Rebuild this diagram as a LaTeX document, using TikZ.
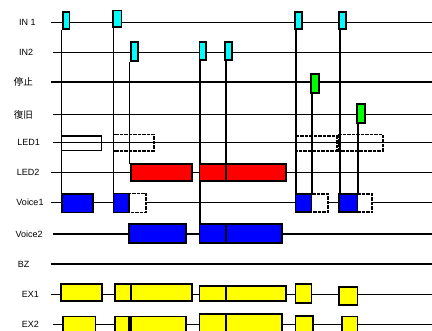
\documentclass[tikz,border=0pt]{standalone}
\usepackage{fontspec}
\setmainfont{Liberation Sans}
\newfontfamily\cjk{Noto Sans CJK JP}
\definecolor{sigCyan}{HTML}{00FFFF}
\definecolor{sigGreen}{HTML}{00FF00}
\definecolor{sigRed}{HTML}{FF0000}
\definecolor{sigBlue}{HTML}{0000FF}
\definecolor{sigYellow}{HTML}{FFFF00}
\usepackage{tikz}

\tikzset{
  sigline/.style={line width=1.6pt},
  pulse/.style={draw, line width=1.7pt},
  dashbox/.style={draw, line width=1.9pt, dash pattern=on 3.5pt off 1pt},
  lbl/.style={font=\fontsize{9}{10}\selectfont, inner sep=0pt},
}

\begin{document}
\begin{tikzpicture}[x=1pt, y=-1pt]
    \useasboundingbox (0,0) rectangle (432,331);
    \clip (0,0) rectangle (432,331);
    % Labels
    \node[lbl] (lIN1) at (27.5,22.7) {IN 1};
    \node[lbl] (lIN2) at (26.2,52.7) {IN2};
    \node[lbl, font=\cjk\fontsize{9.5}{10}\selectfont] (lStop) at (23.3,82.3) {停止};
    \node[lbl, font=\cjk\fontsize{9.5}{10}\selectfont] (lReset) at (23.3,114.7) {復旧};
    \node[lbl] (lLED1) at (28.7,142.7) {LED1};
    \node[lbl] (lLED2) at (28.2,172.7) {LED2};
    \node[lbl] (lVoice1) at (30,202.7) {Voice1};
    \node[lbl] (lVoice2) at (29.2,234.3) {Voice2};
    \node[lbl] (lBZ) at (23.7,264.3) {BZ};
    \node[lbl] (lEX1) at (30.5,294.7) {EX1};
    \node[lbl] (lEX2) at (30.5,324.7) {EX2};
    % Signal lines
    \draw[sigline] (50.7,22.7) -- (432,22.7);
    \draw[sigline] (52.7,52.7) -- (432,52.7);
    \draw[sigline] (50.7,82.3) -- (432,82.3);
    \draw[sigline] (52.7,114.7) -- (432,114.7);
    \draw[sigline] (52.7,142.7) -- (432,142.7);
    \draw[sigline] (50.7,172.7) -- (432,172.7);
    \draw[sigline] (50.7,202.7) -- (432,202.7);
    \draw[sigline] (52.7,234.3) -- (432,234.3);
    \draw[sigline] (50.7,264.3) -- (432,264.3);
    \draw[sigline] (50.7,294.7) -- (432,294.7);
    \draw[sigline] (52.7,324.7) -- (432,324.7);
    % Timing marks
    \draw[sigline] (61.3,30) -- (61.3,194);
    \draw[sigline] (113.5,28) -- (113.5,194);
    \draw[sigline] (129.3,62) -- (129.3,164);
    \draw[sigline] (199.7,61) -- (199.7,224);
    \draw[sigline] (225.7,61) -- (225.7,181);
    \draw[sigline] (295.7,30) -- (295.7,194);
    \draw[sigline] (311.7,92) -- (311.7,194);
    \draw[sigline] (340,29) -- (340,194);
    \draw[sigline] (357.7,122) -- (357.7,194);
    % IN1 / IN2 pulses
    \filldraw[pulse, fill=sigCyan] (63,12) rectangle (69.5,29);
    \filldraw[pulse, fill=sigCyan] (113.3,10.5) rectangle (121.5,27);
    \filldraw[pulse, fill=sigCyan] (295.3,12) rectangle (301.7,29);
    \filldraw[pulse, fill=sigCyan] (339.3,12) rectangle (345.7,29);
    \filldraw[pulse, fill=sigCyan] (131,42.3) rectangle (137.7,61);
    \filldraw[pulse, fill=sigCyan] (199.5,42.3) rectangle (205.7,60.3);
    \filldraw[pulse, fill=sigCyan] (225.3,42.3) rectangle (231.7,60.3);
    % Stop / reset pulses
    \filldraw[pulse, fill=sigGreen] (311.3,74) rectangle (319.3,92.7);
    \filldraw[pulse, fill=sigGreen] (357.3,104.3) rectangle (365,122.7);
    % LED1
    \draw[line width=1.3pt] (61.7,136) rectangle (101.7,150.7);
    \draw[dashbox] (113.5,134.5) rectangle (154,150.7);
    \draw[dashbox] (295.5,136) rectangle (336.7,150.7);
    \draw[dashbox] (339.3,134.5) rectangle (382.7,150.7);
    % LED2
    \filldraw[pulse, fill=sigRed] (131,164) rectangle (191.7,181.3);
    \filldraw[pulse, fill=sigRed] (199.5,164) rectangle (286,181.3);
    \draw[sigline] (225.7,164) -- (225.7,181.3);
    % Voice1
    \filldraw[pulse, fill=sigBlue] (61.7,194) rectangle (93.3,212.5);
    \filldraw[dashbox, fill=white] (113.5,193.5) rectangle (146,212.5);
    \filldraw[pulse, fill=sigBlue] (113.5,193.5) rectangle (129.3,212.5);
    \filldraw[dashbox, fill=white] (295.5,194) rectangle (327.7,212.3);
    \filldraw[pulse, fill=sigBlue] (295.5,194) rectangle (311.5,212.3);
    \filldraw[dashbox, fill=white] (339.3,194) rectangle (372.3,212.3);
    \filldraw[pulse, fill=sigBlue] (339.3,194) rectangle (357.5,212.3);
    % Voice2
    \filldraw[pulse, fill=sigBlue] (129,224) rectangle (185.7,243);
    \filldraw[pulse, fill=sigBlue] (199.5,224) rectangle (281.7,243);
    \draw[sigline] (225.7,224) -- (225.7,243);
    % EX1
    \filldraw[pulse, fill=sigYellow] (61.3,284.3) rectangle (101.7,300.7);
    \filldraw[pulse, fill=sigYellow] (115,284.3) rectangle (191.7,300.7);
    \draw[sigline] (131,284.3) -- (131,300.7);
    \filldraw[pulse, fill=sigYellow] (199.5,286) rectangle (286,301);
    \draw[sigline] (225.7,286) -- (225.7,301);
    \filldraw[pulse, fill=sigYellow] (295.5,284.3) rectangle (311.5,302.7);
    \filldraw[pulse, fill=sigYellow] (339.3,286.7) rectangle (357.5,304.7);
    % EX2
    \filldraw[pulse, fill=sigYellow] (63.3,316.5) rectangle (95.5,336);
    \filldraw[pulse, fill=sigYellow] (115,316.5) rectangle (129.3,336);
    \filldraw[pulse, fill=sigYellow] (131,316.5) rectangle (185.7,336);
    \filldraw[pulse, fill=sigYellow] (199.5,314) rectangle (281.7,336);
    \draw[sigline] (225.7,314) -- (225.7,336);
    \filldraw[pulse, fill=sigYellow] (295.5,316) rectangle (313.3,336);
    \filldraw[pulse, fill=sigYellow] (341.7,316.5) rectangle (357.5,336);
\end{tikzpicture}
\end{document}
